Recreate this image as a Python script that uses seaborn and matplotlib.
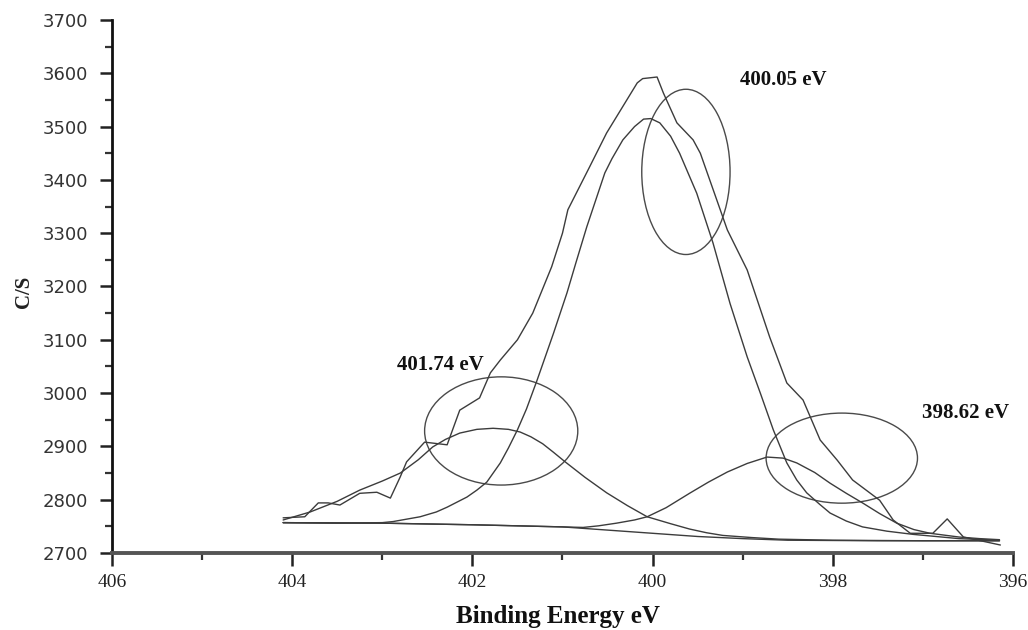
import matplotlib
matplotlib.use("Agg")
import matplotlib.pyplot as plt
from matplotlib.patches import Ellipse
from matplotlib.ticker import MultipleLocator
import seaborn as sns

# ---- data (binding energy in eV, counts/s) ----
raw_be = [404.10, 403.86, 403.71, 403.60, 403.47, 403.25, 403.06, 402.91, 402.80,
          402.73, 402.53, 402.28, 402.14, 401.92, 401.80, 401.69, 401.50, 401.33,
          401.12, 401.00, 400.94, 400.70, 400.51, 400.17, 400.11, 399.95, 399.88,
          399.73, 399.55, 399.47, 399.17, 398.95, 398.70, 398.51, 398.33, 398.14,
          397.95, 397.78, 397.48, 397.33, 397.14, 396.89, 396.73, 396.55, 396.14]
raw_cps = [2766, 2768, 2794, 2794, 2790, 2812, 2814, 2803, 2843,
           2871, 2908, 2903, 2968, 2991, 3038, 3062, 3100, 3150,
           3237, 3300, 3344, 3424, 3488, 3582, 3590, 3593, 3563,
           3507, 3475, 3450, 3306, 3231, 3105, 3019, 2987, 2912,
           2874, 2837, 2799, 2762, 2737, 2737, 2764, 2730, 2715]

# component at 400.05 eV
c2_be = [404.10, 403.50, 403.00, 402.88, 402.58, 402.40, 402.28, 402.06, 401.95,
         401.84, 401.69, 401.60, 401.50, 401.40, 401.28, 401.10, 400.95, 400.85,
         400.73, 400.53, 400.45, 400.33, 400.20, 400.10, 400.02, 399.92, 399.80,
         399.70, 399.51, 399.33, 399.14, 398.95, 398.80, 398.66, 398.51, 398.40,
         398.29, 398.15, 398.03, 397.85, 397.67, 397.40, 397.11, 396.60, 396.15]
c2_cps = [2757, 2756, 2757, 2759, 2768, 2777, 2786, 2805, 2818,
          2833, 2869, 2897, 2931, 2970, 3025, 3112, 3188, 3245,
          3312, 3413, 3440, 3475, 3500, 3514, 3515, 3507, 3482,
          3450, 3375, 3282, 3168, 3068, 2998, 2931, 2869, 2837,
          2813, 2792, 2775, 2760, 2749, 2741, 2735, 2727, 2724]

# component at 401.74 eV
c1_be = [404.10, 403.80, 403.50, 403.25, 403.00, 402.80, 402.60, 402.44, 402.30,
         402.14, 401.95, 401.77, 401.60, 401.47, 401.35, 401.22, 401.10, 400.97,
         400.75, 400.51, 400.28, 400.06, 399.80, 399.59, 399.40, 399.22, 398.90,
         398.60, 398.00, 397.00, 396.15]
c1_cps = [2762, 2777, 2797, 2818, 2835, 2850, 2875, 2899, 2913,
          2925, 2932, 2934, 2932, 2927, 2918, 2905, 2889, 2871,
          2842, 2813, 2789, 2768, 2755, 2745, 2738, 2733, 2729,
          2726, 2724, 2723, 2723]

# component at 398.62 eV
c3_be = [404.10, 403.00, 402.00, 401.50, 401.00, 400.77, 400.60, 400.40, 400.20,
         400.06, 399.85, 399.59, 399.38, 399.17, 398.95, 398.73, 398.55, 398.40,
         398.20, 398.03, 397.85, 397.67, 397.48, 397.29, 397.10, 396.92, 396.60,
         396.37, 396.15]
c3_cps = [2757, 2756, 2753, 2751, 2749, 2748, 2751, 2756, 2762,
          2768, 2785, 2812, 2833, 2852, 2868, 2880, 2878, 2869,
          2851, 2831, 2812, 2794, 2774, 2756, 2744, 2737, 2730,
          2727, 2725]

# background
bl_be = [404.10, 403.00, 402.00, 401.50, 401.00, 400.50, 400.00, 399.50, 399.00,
         398.50, 397.50, 396.15]
bl_cps = [2757, 2756, 2753, 2751, 2749, 2743, 2737, 2731, 2727,
          2724, 2723, 2723]

peak_labels = ["400.05 eV", "401.74 eV", "398.62 eV"]
x_ticks = [406, 404, 402, 400, 398, 396]
y_ticks = [2700, 2800, 2900, 3000, 3100, 3200, 3300, 3400, 3500, 3600, 3700]

# ---- figure ----
sns.set_style("ticks")
fig = plt.figure(figsize=(10.28, 6.30), dpi=100)
ax = fig.add_axes([0.1089, 0.1222, 0.8765, 0.8461])

line_col = "#3c3c3c"
lw = 1.0
for xs, ys in [(bl_be, bl_cps), (c1_be, c1_cps), (c3_be, c3_cps),
               (c2_be, c2_cps), (raw_be, raw_cps)]:
    sns.lineplot(x=xs, y=ys, ax=ax, sort=False, estimator=None,
                 color=line_col, linewidth=lw)

# annotation ellipses around the peaks
ell_col = "#4a4a4a"
for (cx, cy, w, h) in [(399.63, 3415, 0.98, 310),
                       (401.68, 2929, 1.70, 203),
                       (397.90, 2878, 1.68, 169)]:
    ax.add_patch(Ellipse((cx, cy), w, h, fill=False, edgecolor=ell_col, linewidth=1.0))

lab_font = dict(family="Liberation Serif", weight="bold", size=15, color="#111111")
ax.text(399.03, 3587, peak_labels[0], ha="left", va="center", **lab_font)
ax.text(402.84, 3053, peak_labels[1], ha="left", va="center", **lab_font)
ax.text(397.01, 2963, peak_labels[2], ha="left", va="center", **lab_font)

ax.set_xlim(406, 396)
ax.set_ylim(2700, 3700)
ax.set_xticks(x_ticks)
ax.set_yticks(y_ticks)
ax.xaxis.set_minor_locator(MultipleLocator(1))
ax.yaxis.set_minor_locator(MultipleLocator(50))

for s in ["top", "right"]:
    ax.spines[s].set_visible(False)
ax.spines["left"].set_color("#111111")
ax.spines["left"].set_linewidth(2.0)
ax.spines["bottom"].set_color("#555555")
ax.spines["bottom"].set_linewidth(2.8)

ax.tick_params(axis="both", which="major", direction="out", length=9, width=1.8,
               color="#222222")
ax.tick_params(axis="both", which="minor", direction="out", length=5, width=1.6,
               color="#333333")
ax.tick_params(axis="y", which="major", pad=8)
ax.tick_params(axis="x", which="major", pad=6)

for t in ax.get_xticklabels():
    t.set_fontfamily("Liberation Serif")
    t.set_fontsize(14)
    t.set_color("#222222")
for t in ax.get_yticklabels():
    t.set_fontfamily("DejaVu Sans")
    t.set_fontsize(13)
    t.set_color("#333333")

ax.set_xlabel("Binding Energy eV", fontfamily="Liberation Serif", fontweight="bold",
              fontsize=18, color="#111111")
ax.xaxis.set_label_coords(0.495, -0.12)
ax.xaxis.label.set_va("center")
ax.set_ylabel("C/S", fontfamily="Liberation Serif", fontweight="bold",
              fontsize=15, color="#222222")
ax.yaxis.set_label_coords(-0.098, 0.49)
ax.yaxis.label.set_va("center")

fig.savefig("out.png", dpi=100, facecolor="white")
